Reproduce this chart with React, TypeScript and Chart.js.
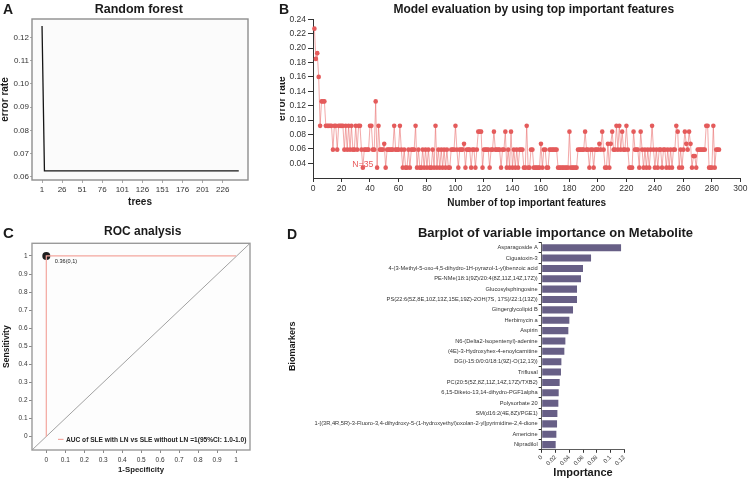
import React, { useEffect, useRef } from "react";
import { Chart, registerables } from "chart.js";

Chart.register(...registerables);

const FONT = "'Liberation Sans', Arial, Helvetica, sans-serif";

// ---- A: random forest OOB error vs number of trees ----
const treeCounts = [1, 4, 246];
const oobErrorRates = [0.125, 0.0625, 0.0625];
const treeTicks = [1, 26, 51, 76, 101, 126, 151, 176, 201, 226];
const errorTicksA = [0.06, 0.07, 0.08, 0.09, 0.1, 0.11, 0.12];

// ---- B: error rate when keeping the top-N important features ----
const featureErrorRates = [
  0.227, 0.185, 0.193, 0.160, 0.092, 0.126, 0.126, 0.126, 0.092, 0.092,
  0.092, 0.092, 0.092, 0.059, 0.092, 0.092, 0.059, 0.092, 0.092, 0.092,
  0.092, 0.059, 0.092, 0.059, 0.092, 0.059, 0.092, 0.059, 0.059, 0.092,
  0.059, 0.092, 0.092, 0.059, 0.034, 0.059, 0.059, 0.059, 0.059, 0.092,
  0.092, 0.059, 0.059, 0.126, 0.034, 0.092, 0.059, 0.059, 0.059, 0.067,
  0.034, 0.059, 0.059, 0.059, 0.059, 0.059, 0.092, 0.059, 0.059, 0.059,
  0.092, 0.059, 0.034, 0.059, 0.034, 0.034, 0.059, 0.034, 0.059, 0.059,
  0.059, 0.092, 0.034, 0.059, 0.034, 0.034, 0.059, 0.034, 0.059, 0.034,
  0.059, 0.034, 0.034, 0.059, 0.034, 0.092, 0.034, 0.059, 0.034, 0.059,
  0.034, 0.059, 0.034, 0.059, 0.034, 0.034, 0.059, 0.059, 0.059, 0.092,
  0.059, 0.034, 0.059, 0.059, 0.059, 0.067, 0.034, 0.059, 0.059, 0.059,
  0.034, 0.059, 0.059, 0.034, 0.059, 0.084, 0.084, 0.084, 0.034, 0.059,
  0.059, 0.059, 0.059, 0.034, 0.059, 0.059, 0.084, 0.059, 0.059, 0.059,
  0.059, 0.034, 0.059, 0.059, 0.084, 0.034, 0.059, 0.034, 0.084, 0.034,
  0.059, 0.034, 0.059, 0.034, 0.059, 0.059, 0.059, 0.034, 0.034, 0.092,
  0.034, 0.034, 0.059, 0.059, 0.034, 0.034, 0.034, 0.034, 0.034, 0.067,
  0.034, 0.059, 0.059, 0.034, 0.034, 0.059, 0.059, 0.059, 0.059, 0.059,
  0.059, 0.034, 0.034, 0.034, 0.034, 0.034, 0.034, 0.034, 0.034, 0.084,
  0.034, 0.034, 0.034, 0.034, 0.034, 0.059, 0.059, 0.059, 0.059, 0.059,
  0.084, 0.059, 0.059, 0.034, 0.059, 0.059, 0.034, 0.059, 0.059, 0.059,
  0.067, 0.059, 0.084, 0.059, 0.034, 0.034, 0.067, 0.034, 0.067, 0.084,
  0.059, 0.059, 0.092, 0.059, 0.092, 0.059, 0.084, 0.059, 0.059, 0.092,
  0.059, 0.034, 0.034, 0.034, 0.084, 0.059, 0.059, 0.059, 0.034, 0.084,
  0.059, 0.034, 0.059, 0.034, 0.059, 0.034, 0.059, 0.092, 0.059, 0.034,
  0.059, 0.034, 0.059, 0.059, 0.034, 0.059, 0.059, 0.034, 0.059, 0.034,
  0.059, 0.034, 0.059, 0.059, 0.092, 0.084, 0.034, 0.059, 0.034, 0.059,
  0.084, 0.067, 0.059, 0.084, 0.067, 0.034, 0.050, 0.050, 0.034, 0.059,
  0.059, 0.059, 0.059, 0.059, 0.059, 0.092, 0.092, 0.034, 0.034, 0.034,
  0.092, 0.034, 0.059, 0.059, 0.059,
];
const featureTicks = [0, 20, 40, 60, 80, 100, 120, 140, 160, 180, 200, 220, 240, 260, 280, 300];
const errorTicksB = [0.04, 0.06, 0.08, 0.1, 0.12, 0.14, 0.16, 0.18, 0.2, 0.22, 0.24];
const bestFeatureCount = 35;

// ---- C: ROC curve ----
const falsePositiveRates = [0, 0, 1];
const truePositiveRates = [0, 1, 1];
const bestThreshold = 0.36;
const bestFpr = 0;
const bestTpr = 1;
const rocTicks = [0, 0.1, 0.2, 0.3, 0.4, 0.5, 0.6, 0.7, 0.8, 0.9, 1];
const aucText = "AUC of SLE with LN vs SLE without LN =1(95%CI: 1.0-1.0)";

// ---- D: variable importance ----
const metabolites = [
  "Asparagoside A",
  "Ciguatoxin-3",
  "4-(3-Methyl-5-oxo-4,5-dihydro-1H-pyrazol-1-yl)benzoic acid",
  "PE-NMe(18:1(9Z)/20:4(8Z,11Z,14Z,17Z))",
  "Glucosylsphingosine",
  "PS(22:6(5Z,8E,10Z,13Z,15E,19Z)-2OH(7S, 17S)/22:1(13Z))",
  "Gingerglycolipid B",
  "Herbimycin a",
  "Aspirin",
  "N6-(Delta2-Isopentenyl)-adenine",
  "(4E)-3-Hydroxyhex-4-enoylcarnitine",
  "DG(i-15:0/0:0/18:1(9Z)-O(12,13))",
  "Triflusal",
  "PC(20:5(5Z,8Z,11Z,14Z,17Z)/TXB2)",
  "6,15-Diketo-13,14-dihydro-PGF1alpha",
  "Polysorbate 20",
  "SM(d16:2(4E,8Z)/PGE1)",
  "1-[(3R,4R,5R)-3-Fluoro-3,4-dihydroxy-5-(1-hydroxyethyl)oxolan-2-yl]pyrimidine-2,4-dione",
  "Americine",
  "Nipradilol",
];
const importanceValues = [
  0.1153, 0.0717, 0.0600, 0.0571, 0.0513, 0.0513, 0.0455, 0.0402, 0.0387, 0.0344,
  0.0329, 0.0286, 0.0280, 0.0261, 0.0247, 0.0242, 0.0228, 0.0223, 0.0213, 0.0203,
];
const importanceTicks = [0, 0.02, 0.04, 0.06, 0.08, 0.1, 0.12];

// ---- shared helpers ----
const fixWidth = (w: number) => (scale: any) => {
  scale.width = w;
};
const fixHeight = (h: number) => (scale: any) => {
  scale.height = h;
};
const setTicks = (values: number[]) => (scale: any) => {
  scale.ticks = values.map((value) => ({ value }));
};
const font = (size: number, bold = false) => ({
  family: FONT,
  size,
  weight: bold ? ("bold" as const) : ("normal" as const),
  lineHeight: 1.2,
});

const framePlugin = (stroke: string, fill: string, width: number) => ({
  id: "frame",
  beforeDraw(chart: any) {
    const { ctx, chartArea } = chart;
    const { left, top, right, bottom } = chartArea;
    ctx.save();
    ctx.fillStyle = fill;
    ctx.fillRect(left, top, right - left, bottom - top);
    ctx.restore();
  },
  afterDraw(chart: any) {
    const { ctx, chartArea } = chart;
    const { left, top, right, bottom } = chartArea;
    ctx.save();
    ctx.strokeStyle = stroke;
    ctx.lineWidth = width;
    ctx.strokeRect(left, top, right - left, bottom - top);
    ctx.restore();
  },
});

const basePlugins = {
  legend: { display: false },
  tooltip: { enabled: false },
  title: { display: false },
};

function ChartBox({ left, top, width, height, config }: any) {
  const ref = useRef<HTMLCanvasElement>(null);
  useEffect(() => {
    const chart = new Chart(ref.current as HTMLCanvasElement, config());
    return () => chart.destroy();
  }, []);
  return (
    <canvas
      ref={ref}
      width={width}
      height={height}
      style={{ position: "absolute", left, top, width, height }}
    />
  );
}

function Text({ x, y, size, children, center = false, bold = true }: any) {
  return (
    <div
      style={{
        position: "absolute",
        left: x,
        top: y,
        fontFamily: FONT,
        fontSize: size,
        fontWeight: bold ? "bold" : "normal",
        lineHeight: 1,
        whiteSpace: "nowrap",
        color: "#1a1a1a",
        transform: center ? "translateX(-50%)" : undefined,
      }}
    >
      {children}
    </div>
  );
}

// ---- chart configs ----
const randomForestConfig = () => ({
  type: "line",
  data: {
    datasets: [
      {
        data: treeCounts.map((t, i) => ({ x: t, y: oobErrorRates[i] })),
        borderColor: "#151515",
        borderWidth: 1.3,
        pointRadius: 0,
        tension: 0,
      },
    ],
  },
  options: {
    responsive: false,
    animation: false,
    layout: { padding: { top: 19, right: 12, left: 0, bottom: 0 } },
    plugins: basePlugins,
    scales: {
      x: {
        type: "linear",
        min: -11.5,
        max: 257.5,
        afterFit: fixHeight(35),
        afterBuildTicks: setTicks(treeTicks),
        ticks: { font: font(8), color: "#333", padding: 2, maxRotation: 0, autoSkip: false, callback: (v: number) => String(v) },
        grid: { display: true, drawOnChartArea: false, tickLength: 3, color: "#aaa" },
        border: { display: false },
        title: { display: true, text: "trees", font: font(10, true), color: "#1a1a1a", padding: { top: 0, bottom: 7 } },
      },
      y: {
        min: 0.0586,
        max: 0.128,
        afterFit: fixWidth(32),
        afterBuildTicks: setTicks(errorTicksA),
        ticks: { font: font(8), color: "#333", padding: 1, autoSkip: false, callback: (v: number) => v.toFixed(2) },
        grid: { display: true, drawOnChartArea: false, tickLength: 2, color: "#aaa" },
        border: { display: false },
        title: { display: true, text: "error rate", font: font(10, true), color: "#1a1a1a", padding: { top: -1, bottom: 0 } },
      },
    },
  },
  plugins: [framePlugin("#8e8e8e", "#fbfbfb", 1.4)],
});

const bestLabelPlugin = {
  id: "bestLabel",
  beforeDatasetsDraw(chart: any) {
    const { ctx, scales } = chart;
    const x = scales.x.getPixelForValue(bestFeatureCount);
    const y = scales.y.getPixelForValue(featureErrorRates[bestFeatureCount - 1]) - 3.5;
    ctx.save();
    ctx.font = `8.7px ${FONT}`;
    ctx.fillStyle = "#e8595b";
    ctx.textAlign = "center";
    ctx.textBaseline = "middle";
    ctx.fillText(`N=${bestFeatureCount}`, x, y);
    ctx.restore();
  },
};

const featureCurveConfig = () => ({
  type: "line",
  data: {
    datasets: [
      {
        data: featureErrorRates.map((e, i) => ({ x: i + 1, y: e })),
        borderColor: "rgba(234, 110, 110, 0.75)",
        borderWidth: 0.8,
        pointRadius: 2.3,
        pointBackgroundColor: "#e45b5b",
        pointBorderWidth: 0,
        tension: 0,
        clip: false,
      },
    ],
  },
  options: {
    responsive: false,
    animation: false,
    layout: { padding: { top: 19.3, right: 7, left: 0, bottom: 0 } },
    plugins: basePlugins,
    scales: {
      x: {
        type: "linear",
        min: 0,
        max: 300,
        afterFit: fixHeight(37),
        afterBuildTicks: setTicks(featureTicks),
        ticks: { font: font(8.5), color: "#333", padding: 1.5, maxRotation: 0, autoSkip: false, callback: (v: number) => String(v) },
        grid: { display: true, drawOnChartArea: false, tickLength: 4, color: "#333" },
        border: { display: true, color: "#333", width: 1 },
        title: { display: true, text: "Number of top important features", font: font(10, true), color: "#1a1a1a", padding: { top: 0, bottom: 6 } },
      },
      y: {
        min: 0.0196,
        max: 0.24,
        afterFit: fixWidth(33),
        afterBuildTicks: setTicks(errorTicksB),
        ticks: { font: font(8.5), color: "#333", padding: 2, autoSkip: false, callback: (v: number) => v.toFixed(2) },
        grid: { display: true, drawOnChartArea: false, tickLength: 5, color: "#333" },
        border: { display: true, color: "#333", width: 1 },
        title: { display: true, text: "error rate", font: font(10, true), color: "#1a1a1a", padding: { top: -4, bottom: 0 } },
      },
    },
  },
  plugins: [bestLabelPlugin],
});

const rocDecorPlugin = {
  id: "rocDecor",
  beforeDatasetsDraw(chart: any) {
    const { ctx, chartArea } = chart;
    const { left, top, right, bottom } = chartArea;
    ctx.save();
    ctx.strokeStyle = "#8a8a8a";
    ctx.lineWidth = 0.8;
    ctx.beginPath();
    ctx.moveTo(left, bottom);
    ctx.lineTo(right, top);
    ctx.stroke();
    ctx.restore();
  },
  afterDatasetsDraw(chart: any) {
    const { ctx, chartArea, scales } = chart;
    const px = scales.x.getPixelForValue(bestFpr);
    const py = scales.y.getPixelForValue(bestTpr);
    ctx.save();
    ctx.fillStyle = "#222";
    ctx.font = `5.6px ${FONT}`;
    ctx.textBaseline = "middle";
    ctx.fillText(`${bestThreshold}(${bestFpr},${bestTpr})`, px + 8.5, py + 6);
    // legend entry
    const ly = chartArea.bottom - 10.6;
    ctx.strokeStyle = "#f3a69e";
    ctx.lineWidth = 1.2;
    ctx.beginPath();
    ctx.moveTo(chartArea.left + 26, ly);
    ctx.lineTo(chartArea.left + 31.5, ly);
    ctx.stroke();
    ctx.font = `bold 6.6px ${FONT}`;
    ctx.fillStyle = "#222";
    ctx.fillText(aucText, chartArea.left + 34, ly + 0.3);
    ctx.restore();
  },
};

const rocConfig = () => ({
  type: "line",
  data: {
    datasets: [
      {
        data: falsePositiveRates.map((f, i) => ({ x: f, y: truePositiveRates[i] })),
        borderColor: "#f3a69e",
        borderWidth: 1.2,
        pointRadius: 0,
        tension: 0,
      },
      {
        data: [{ x: bestFpr, y: bestTpr }],
        showLine: false,
        pointRadius: 4,
        pointBackgroundColor: "#1e1e1e",
        pointBorderWidth: 0,
        clip: false,
      },
    ],
  },
  options: {
    responsive: false,
    animation: false,
    layout: { padding: { top: 21.3, right: 12, left: 0, bottom: 0 } },
    plugins: basePlugins,
    scales: {
      x: {
        type: "linear",
        min: -0.0754,
        max: 1.0738,
        afterFit: fixHeight(28),
        afterBuildTicks: setTicks(rocTicks),
        ticks: { font: font(6.5), color: "#333", padding: 3, maxRotation: 0, autoSkip: false, callback: (v: number) => String(v) },
        grid: { display: true, drawOnChartArea: false, tickLength: 3, color: "#888" },
        border: { display: false },
        title: { display: true, text: "1-Specificity", font: font(7.8, true), color: "#1a1a1a", padding: { top: 0, bottom: 3.7 } },
      },
      y: {
        min: -0.0736,
        max: 1.07,
        afterFit: fixWidth(32),
        afterBuildTicks: setTicks(rocTicks),
        ticks: { font: font(6.5), color: "#333", padding: 1.5, autoSkip: false, callback: (v: number) => String(v) },
        grid: { display: true, drawOnChartArea: false, tickLength: 3, color: "#888" },
        border: { display: false },
        title: { display: true, text: "Sensitivity", font: font(8.5, true), color: "#1a1a1a", padding: { top: 1.6, bottom: 0 } },
      },
    },
  },
  plugins: [framePlugin("#9a9a9a", "#fdfdfd", 1.4), rocDecorPlugin],
});

const importanceConfig = () => ({
  type: "bar",
  data: {
    labels: metabolites,
    datasets: [
      {
        data: importanceValues,
        backgroundColor: "#675f86",
        barPercentage: 0.68,
        categoryPercentage: 1,
      },
    ],
  },
  options: {
    indexAxis: "y",
    responsive: false,
    animation: false,
    layout: { padding: { top: 20.5, right: 124.7, left: 0, bottom: 0 } },
    plugins: basePlugins,
    scales: {
      x: {
        type: "linear",
        min: 0,
        max: 0.12,
        afterFit: fixHeight(28.2),
        afterBuildTicks: setTicks(importanceTicks),
        ticks: { font: font(6), color: "#333", padding: 1, minRotation: 45, maxRotation: 45, autoSkip: false, callback: (v: number) => String(v) },
        grid: { display: true, drawOnChartArea: false, tickLength: 3, color: "#333" },
        border: { display: true, color: "#333", width: 0.8 },
        title: { display: true, text: "Importance", font: font(11, true), color: "#1a1a1a", padding: { top: 0, bottom: -1.1 } },
      },
      y: {
        afterFit: fixWidth(259.7),
        ticks: { font: font(5.7), color: "#333", padding: 1, autoSkip: false },
        grid: { display: true, drawOnChartArea: false, tickLength: 3, color: "#333" },
        border: { display: true, color: "#333", width: 0.8 },
        title: { display: true, text: "Biomarkers", font: font(9, true), color: "#1a1a1a", padding: { top: 5.6, bottom: 0 } },
      },
    },
  },
});

export default function App() {
  return (
    <div
      style={{
        position: "absolute",
        left: 0,
        top: 0,
        width: 749,
        height: 478,
        background: "#fff",
        overflow: "hidden",
      }}
    >
      <ChartBox left={0} top={0} width={260} height={215} config={randomForestConfig} />
      <ChartBox left={280} top={0} width={469} height={215} config={featureCurveConfig} />
      <ChartBox left={0} top={222} width={262} height={256} config={rocConfig} />
      <ChartBox left={282} top={222} width={467} height={256} config={importanceConfig} />

      <Text x={3} y={2.2} size={14}>A</Text>
      <Text x={279} y={2.2} size={14}>B</Text>
      <Text x={3} y={224.5} size={15}>C</Text>
      <Text x={287} y={226.5} size={14}>D</Text>

      <Text x={138.8} y={2.7} size={12.5} center>Random forest</Text>
      <Text x={533.8} y={3.4} size={12} center>Model evaluation by using top important features</Text>
      <Text x={142.7} y={225.1} size={12} center>ROC analysis</Text>
      <Text x={555.5} y={226.3} size={13} center>Barplot of variable importance on Metabolite</Text>
    </div>
  );
}
